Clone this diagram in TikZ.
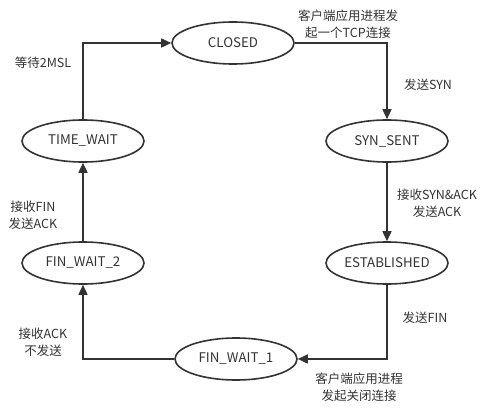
\documentclass[tikz,border=0pt]{standalone}
\usepackage{fontspec}
\setmainfont{Noto Sans CJK SC}
\usetikzlibrary{shapes.geometric,arrows.meta}
\definecolor{darkline}{HTML}{333333}
\begin{document}
\begin{tikzpicture}[x=1pt,y=-1pt,
   state/.style={ellipse,draw=darkline,line width=1.6pt,minimum width=122pt,
      minimum height=42pt,inner sep=0pt,text=darkline,font=\fontsize{13.3}{15}\selectfont},
   trans/.style={draw=darkline,line width=1.6pt,-{Triangle[length=10pt,width=9pt]}},
   lbl/.style={align=center,text=darkline,font=\fontsize{12.5}{17}\selectfont}]
            \useasboundingbox (0,0) rectangle (492,409);
            \node[state] (closed) at (233,43) {CLOSED};
            \node[state] (timewait) at (83,141) {TIME\_WAIT};
            \node[state] (synsent) at (387,141) {SYN\_SENT};
            \node[state] (finwait2) at (83,263) {FIN\_WAIT\_2};
            \node[state] (established) at (387,263) {ESTABLISHED};
            \node[state] (finwait1) at (236,359) {FIN\_WAIT\_1};

            \draw[trans] (timewait.north) |- (closed.west);
            \draw[trans] (closed.east) -| (synsent.north);
            \draw[trans] (synsent) -- (established);
            \draw[trans] (established.south) |- (finwait1.east);
            \draw[trans] (finwait1.west) -| (finwait2.south);
            \draw[trans] (finwait2) -- (timewait);

            \node[lbl] (l2msl) at (43,63) {等待2MSL};
            \node[lbl] (lopen) at (348,24) {客户端应用进程发\\起一个TCP连接};
            \node[lbl] (lsyn) at (428,85) {发送SYN};
            \node[lbl] (lsynack) at (437,203) {接收SYN\&ACK\\发送ACK};
            \node[lbl] (lfin) at (33,215) {接收FIN\\发送ACK};
            \node[lbl] (lsendfin) at (425,318) {发送FIN};
            \node[lbl] (lack) at (43,342) {接收ACK\\不发送};
            \node[lbl] (lclose) at (359,387) {客户端应用进程\\发起关闭连接};
         \end{tikzpicture}
\end{document}
